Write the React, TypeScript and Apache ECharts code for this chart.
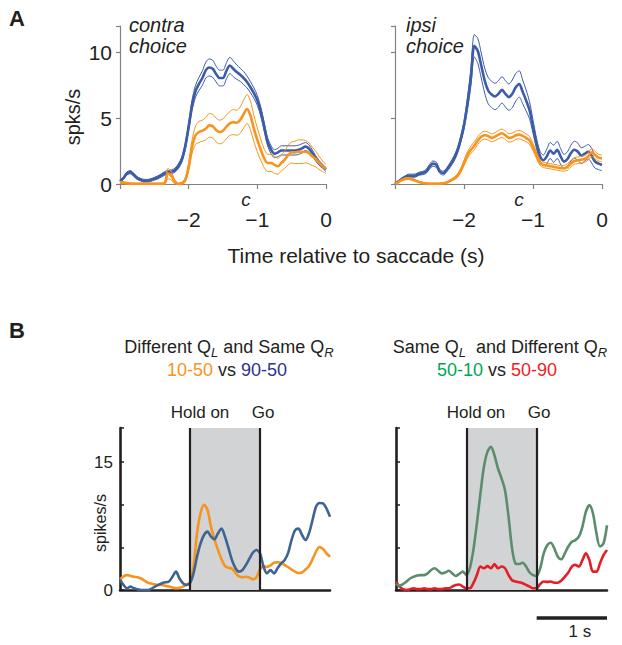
import React, { useEffect, useRef } from "react";
import * as echarts from "echarts";

// ---------- Data ----------
// Panel A: time relative to saccade (s), sampled every 0.05 s from -3 to 0
const timeA: number[] = Array.from({ length: 61 }, (_, i) => +(-3 + i * 0.05).toFixed(2));
// Panel B: time (s), sampled every 0.05 s from 0 to 3
const timeB: number[] = Array.from({ length: 61 }, (_, i) => +(i * 0.05).toFixed(2));

const contraBlue = [0.2,0.45,0.8,0.9,0.7,0.45,0.33,0.25,0.25,0.3, 0.4,0.5,0.65,0.8,0.88,0.93,1.05,1.35,1.85,2.85, 4.35,6.0,7.05,7.6,8.05,8.65,8.85,8.75,8.35,8.05, 8.05,8.6,9.0,8.75,8.5,8.3,8.05,7.75,7.35,6.9, 6.35,5.5,4.35,3.2,2.6,2.3,2.4,2.55,2.55,2.55, 2.55,2.55,2.6,2.7,2.85,2.7,2.35,1.95,1.6,1.35, 1.1];
const contraBlueSem = [0.08,0.1,0.12,0.12,0.12,0.1,0.1,0.1,0.1,0.1, 0.1,0.12,0.12,0.14,0.15,0.15,0.15,0.18,0.2,0.25, 0.3,0.4,0.45,0.5,0.55,0.6,0.65,0.65,0.6,0.6, 0.6,0.62,0.62,0.6,0.55,0.5,0.5,0.45,0.42,0.4, 0.38,0.35,0.33,0.3,0.3,0.3,0.32,0.35,0.35,0.35, 0.35,0.35,0.35,0.35,0.3,0.28,0.25,0.2,0.18,0.15, 0.15];
const contraOrange = [0.12,0.1,0.05,0.02,0,0,0,0,0,0, 0,0,0,0.05,0.8,0.6,0.15,0,0.05,0.3, 1.3,2.85,3.7,3.95,4.05,4.2,4.45,4.4,4.1,3.95, 4.05,4.35,4.6,4.7,4.65,4.85,5.3,5.7,5.2,4.2, 3.35,2.6,1.95,1.6,1.6,1.45,1.35,1.6,1.85,2.2, 2.4,2.4,2.45,2.45,2.45,2.35,2.1,1.9,1.6,1.35, 1.15];
const contraOrangeSem = [0.08,0.08,0.08,0.08,0.08,0.08,0.08,0.08,0.08,0.08, 0.08,0.08,0.08,0.1,0.4,0.3,0.15,0.08,0.08,0.15, 0.3,0.5,0.7,0.8,0.8,0.85,0.9,0.9,0.9,0.9, 0.9,0.9,0.9,0.95,0.95,1.0,1.05,1.1,1.1,1.0, 0.9,0.8,0.7,0.65,0.65,0.65,0.6,0.6,0.65,0.75, 0.8,0.85,0.9,0.9,0.85,0.8,0.7,0.6,0.5,0.4, 0.35];
const ipsiBlue = [0,0.2,0.38,0.53,0.63,0.63,0.65,0.78,0.83,0.95, 1.3,1.55,1.45,0.95,0.83,1.08,1.45,1.88,2.46,3.34, 4.47,6.1,8.1,10.5,10.1,9.0,7.85,7.1,6.8,6.65, 6.85,7.15,6.85,6.6,6.85,7.35,7.6,7.0,6.35,5.6, 4.35,3.1,2.15,1.8,2.1,2.55,2.3,2.6,2.1,1.7, 1.9,2.35,2.6,2.45,2.15,2.3,2.45,2.15,1.7,1.55, 1.45];
const ipsiBlueSem = [0.02,0.05,0.08,0.1,0.12,0.12,0.12,0.12,0.12,0.15, 0.18,0.2,0.2,0.15,0.15,0.15,0.18,0.2,0.22,0.25, 0.3,0.45,0.65,0.85,0.95,0.95,0.95,1.0,1.0,1.0, 1.0,1.0,1.0,1.0,1.05,1.05,1.0,0.9,0.8,0.65, 0.5,0.4,0.35,0.4,0.55,0.6,0.65,0.65,0.6,0.55, 0.55,0.6,0.65,0.65,0.6,0.55,0.55,0.55,0.5,0.45, 0.45];
const ipsiOrange = [0,0.15,0.3,0.4,0.42,0.35,0.25,0.15,0.08,0.05, 0.02,0.02,0.02,0.02,0.05,0.12,0.25,0.4,0.6,1.0, 1.6,2.2,2.6,2.9,3.3,3.6,3.7,3.65,3.5,3.6, 3.75,3.85,3.7,3.5,3.55,3.7,3.75,3.65,3.5,3.3, 2.8,2.2,1.65,1.45,1.4,1.35,1.3,1.25,1.2,1.2, 1.3,1.55,1.75,1.8,1.85,1.9,2.1,2.4,2.2,2.0, 1.95];
const ipsiOrangeSem = [0.02,0.05,0.06,0.08,0.08,0.08,0.06,0.05,0.05,0.05, 0.05,0.05,0.05,0.05,0.05,0.06,0.08,0.1,0.12,0.15, 0.2,0.25,0.28,0.3,0.3,0.3,0.3,0.3,0.3,0.3, 0.32,0.32,0.32,0.32,0.32,0.32,0.32,0.32,0.3,0.3, 0.28,0.25,0.22,0.2,0.2,0.2,0.2,0.2,0.2,0.22, 0.25,0.25,0.25,0.25,0.25,0.25,0.28,0.3,0.28,0.25, 0.25];

const bOrange1050 = [1.25,1.6,1.75,1.65,1.55,1.5,1.35,1.1,0.85,0.75, 0.65,0.6,0.6,0.5,0.4,0.3,0.2,0.25,0.4,0.6, 0.9,2.7,6.6,9.0,10.0,9.4,7.4,5.9,4.7,3.6, 2.8,2.6,2.5,2.0,1.6,1.5,1.55,1.45,1.25,1.5, 2.4,2.8,2.7,2.9,3.2,3.25,3.2,2.95,2.7,2.4, 2.15,2.0,2.05,2.4,2.8,3.6,4.5,5.05,4.8,4.3, 3.9];
const bBlue9050 = [1.2,0.6,0.2,0.4,0.2,0.1,0.0,0.0,0.0,0.15, 0.4,0.6,0.8,0.9,1.0,1.55,2.15,1.35,0.8,0.6, 0.8,1.95,3.9,5.45,6.45,6.85,6.25,5.95,6.65,7.2, 6.25,4.9,3.5,2.55,2.15,2.35,2.95,3.7,4.4,4.7, 4.3,2.75,1.95,2.35,1.95,2.55,3.1,3.5,4.3,5.85, 7.0,7.2,6.45,5.85,6.65,8.2,9.75,10.2,10.15,9.55, 8.6];
const bGreen5010 = [0.7,0.5,0.7,1.0,1.35,1.55,1.7,1.75,1.75,1.95, 2.35,2.55,2.25,1.95,2.05,2.25,1.95,1.65,1.9,2.15, 1.75,2.55,4.7,7.8,11.3,14.45,16.2,16.8,15.8,14.25, 13.1,11.7,8.6,4.9,3.1,3.05,3.2,2.75,2.05,1.75, 1.65,2.55,4.3,5.25,5.55,4.9,3.9,3.6,4.3,5.1, 5.65,5.85,6.25,7.4,9.2,9.95,9.0,6.65,5.1,5.45, 7.6];
const bRed5090 = [1.0,0.4,0.1,0.0,0.1,0.2,0.1,0.1,0.2,0.1, 0.1,0.2,0.1,0.1,0.2,0.2,0.4,0.6,0.65,0.4, 0.2,0.2,0.8,1.75,2.75,2.55,2.8,2.55,3.05,2.55, 2.75,2.55,1.75,1.15,1.0,0.9,0.8,0.6,0.4,0.2, 0.2,0.7,1.0,0.95,1.0,0.85,0.85,1.1,1.55,2.05, 2.75,2.95,2.75,3.5,4.3,3.5,2.15,2.15,3.1,4.1, 4.7];

const yTicksA = [0, 5, 10];
const yTicksB = [0, 15];
const holdOn = 1;
const go = 2;

// ---------- Styles ----------
const FONT = "'Liberation Sans', Arial, Helvetica, sans-serif";
const INK = "#231f20";
const AXIS_GRAY = "#808285";
const A_BLUE = "#3c5ba9";
const A_ORANGE = "#f7941d";
const B_ORANGE = "#f7941d";
const B_BLUE = "#3e6592";
const B_GREEN = "#5b8d6c";
const B_RED = "#e41e26";

const pairs = (t: number[], v: number[]) => t.map((x, i) => [x, v[i]]);
const bandPairs = (t: number[], m: number[], s: number[], sign: number) =>
  t.map((x, i) => [x, Math.max(0, m[i] + sign * s[i])]);

function lineSeries(idx: number, data: number[][], color: string, width: number, z = 2): any {
  return {
    type: "line",
    xAxisIndex: idx,
    yAxisIndex: idx,
    data,
    smooth: 0.3,
    showSymbol: false,
    symbol: "none",
    lineStyle: { color, width },
    itemStyle: { color },
    z,
    silent: true,
  };
}

function meanSem(idx: number, m: number[], s: number[], color: string): any[] {
  return [
    lineSeries(idx, bandPairs(timeA, m, s, 1), color, 1),
    lineSeries(idx, bandPairs(timeA, m, s, -1), color, 1),
    lineSeries(idx, pairs(timeA, m), color, 2.6),
  ];
}

export default function App() {
  const ref = useRef<HTMLDivElement>(null);

  useEffect(() => {
    if (!ref.current) return;
    const chart = echarts.init(ref.current, null, { renderer: "svg" });

    const grids = [
      { left: 120, top: 26, width: 206, height: 158 },
      { left: 395, top: 26, width: 207, height: 158 },
      { left: 120, top: 428, width: 210, height: 162 },
      { left: 396, top: 428, width: 211, height: 162 },
    ];

    const xA = (gi: number) => ({
      type: "value",
      gridIndex: gi,
      min: -3,
      max: 0,
      interval: 1,
      axisLine: { show: true, onZero: false, lineStyle: { color: AXIS_GRAY, width: 1.2 } },
      axisTick: { show: true, length: 5, lineStyle: { color: AXIS_GRAY, width: 1.2 } },
      axisLabel: {
        show: true,
        fontSize: 21,
        color: INK,
        fontFamily: FONT,
        margin: 25,
        formatter: (v: number) => (v === -3 ? "" : v < 0 ? "\u2212" + Math.abs(v) : String(v)),
      },
      splitLine: { show: false },
    });
    const yA = (gi: number, labels: boolean) => ({
      type: "value",
      gridIndex: gi,
      position: "left",
      min: 0,
      max: 12,
      interval: 5,
      axisLine: { show: true, onZero: false, lineStyle: { color: AXIS_GRAY, width: 1.2 } },
      axisTick: { show: true, length: 4, lineStyle: { color: AXIS_GRAY, width: 1.2 } },
      axisLabel: {
        show: labels,
        fontSize: 21,
        color: INK,
        fontFamily: FONT,
        margin: 8,
        formatter: (v: number) => (yTicksA.includes(v) ? String(v) : ""),
      },
      splitLine: { show: false },
    });
    const xB = (gi: number) => ({
      type: "value",
      gridIndex: gi,
      min: 0,
      max: 3,
      interval: 1,
      axisLine: { show: true, onZero: false, lineStyle: { color: INK, width: 2.6 } },
      axisTick: { show: false },
      axisLabel: { show: false },
      splitLine: { show: false },
    });
    const yB = (gi: number, labels: boolean) => ({
      type: "value",
      gridIndex: gi,
      position: "left",
      min: 0,
      max: 19,
      interval: 5,
      axisLine: { show: true, onZero: false, lineStyle: { color: INK, width: 2.6 } },
      axisTick: { show: true, inside: true, length: 4, lineStyle: { color: INK, width: 1.5 } },
      axisLabel: {
        show: labels,
        fontSize: 17,
        color: INK,
        fontFamily: FONT,
        margin: 7,
        formatter: (v: number) => (yTicksB.includes(v) ? String(v) : ""),
      },
      splitLine: { show: false },
    });

    const taskMarks = {
      markArea: {
        silent: true,
        itemStyle: { color: "#d1d3d4" },
        data: [[{ xAxis: holdOn }, { xAxis: go }]],
      },
      markLine: {
        silent: true,
        symbol: "none",
        label: { show: false },
        lineStyle: { color: INK, width: 2.2, type: "solid" },
        data: [{ xAxis: holdOn }, { xAxis: go }],
      },
    };

    const bLeftFirst = { ...lineSeries(2, pairs(timeB, bOrange1050), B_ORANGE, 2.6, 3), ...taskMarks };
    const bRightFirst = { ...lineSeries(3, pairs(timeB, bRed5090), B_RED, 2.6, 3), ...taskMarks };

    const series: any[] = [
      ...meanSem(0, contraBlue, contraBlueSem, A_BLUE),
      ...meanSem(0, contraOrange, contraOrangeSem, A_ORANGE),
      ...meanSem(1, ipsiBlue, ipsiBlueSem, A_BLUE),
      ...meanSem(1, ipsiOrange, ipsiOrangeSem, A_ORANGE),
      bLeftFirst,
      lineSeries(2, pairs(timeB, bBlue9050), B_BLUE, 2.6, 4),
      bRightFirst,
      lineSeries(3, pairs(timeB, bGreen5010), B_GREEN, 2.6, 4),
    ];

    chart.setOption({
      animation: false,
      backgroundColor: "#ffffff",
      textStyle: { fontFamily: FONT },
      grid: grids,
      xAxis: [xA(0), xA(1), xB(2), xB(3)],
      yAxis: [yA(0, true), yA(1, false), yB(2, true), yB(3, false)],
      series,
    });

    const p2 = chart.convertToPixel({ gridIndex: 3 } as any, [2, 0]) as number[];
    const p3 = chart.convertToPixel({ gridIndex: 3 } as any, [3, 0]) as number[];

    const txt = (x: number, y: number, text: string, size: number, extra: any = {}, rotation = 0) => ({
      type: "text",
      x,
      y,
      rotation,
      silent: true,
      style: {
        text,
        fontSize: size,
        fontFamily: FONT,
        fill: INK,
        align: "center",
        verticalAlign: "middle",
        ...extra,
      },
    });

    const subRich = {
      s: { fontSize: 13, fontStyle: "italic", fontFamily: FONT, fill: INK, padding: [10, 0, 0, 0] },
      o: { fill: B_ORANGE, fontSize: 18, fontFamily: FONT },
      b: { fill: "#2e3192", fontSize: 18, fontFamily: FONT },
      g: { fill: "#00a651", fontSize: 18, fontFamily: FONT },
      r: { fill: "#ed1c24", fontSize: 18, fontFamily: FONT },
      k: { fill: INK, fontSize: 18, fontFamily: FONT },
    };

    chart.setOption({
      graphic: {
        elements: [
          txt(17, 18, "A", 22, { fontWeight: "bold" }),
          txt(129, 25, "contra", 20, { fontStyle: "italic", align: "left" }),
          txt(129, 46, "choice", 20, { fontStyle: "italic", align: "left" }),
          txt(406, 25, "ipsi", 20, { fontStyle: "italic", align: "left" }),
          txt(406, 46, "choice", 20, { fontStyle: "italic", align: "left" }),
          txt(73, 117, "spks/s", 20, {}, Math.PI / 2),
          txt(246, 199, "c", 19, { fontStyle: "italic" }),
          txt(519, 199, "c", 19, { fontStyle: "italic" }),
          txt(356, 255, "Time relative to saccade (s)", 21),
          txt(17, 330, "B", 22, { fontWeight: "bold" }),
          txt(229, 347, "Different Q{s|L} and Same Q{s|R}", 18, { rich: subRich }),
          txt(227, 370, "{o|10-50} {k|vs} {b|90-50}", 18, { rich: subRich }),
          txt(500, 347, "Same Q{s|L}  and Different Q{s|R}", 18, { rich: subRich }),
          txt(497, 370, "{g|50-10} {k|vs} {r|50-90}", 18, { rich: subRich }),
          txt(200, 412, "Hold on", 17),
          txt(263, 412, "Go", 17),
          txt(476, 412, "Hold on", 17),
          txt(539, 412, "Go", 17),
          txt(100, 523, "spikes/s", 16, {}, Math.PI / 2),
          txt(513, 451, "**", 18),
          {
            type: "line",
            silent: true,
            shape: { x1: p2[0], y1: p2[1] + 28, x2: p3[0], y2: p3[1] + 28 },
            style: { stroke: INK, lineWidth: 3.5 },
          },
          txt((p2[0] + p3[0]) / 2 + 8, p2[1] + 41, "1 s", 17),
        ],
      },
    });

    return () => chart.dispose();
  }, []);

  return (
    <div
      ref={ref}
      style={{ position: "fixed", left: 0, top: 0, width: 622, height: 645, background: "#fff" }}
    />
  );
}
